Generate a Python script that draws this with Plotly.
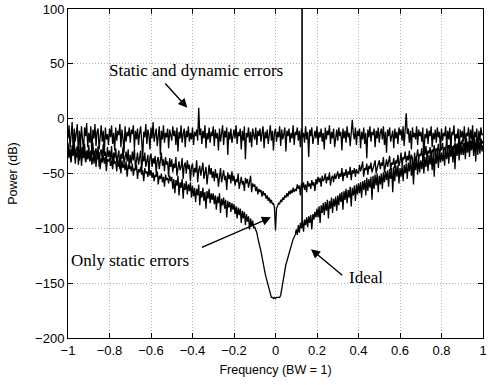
import numpy as np
import plotly.graph_objects as go

# Frequency grid (normalised, BW = 1), step 0.005 from -1 to 1
freq = np.round(np.arange(-200, 201) / 200.0, 3)

# Power (dB), one value per 0.005 in frequency
static_dynamic_db = [
    -18, -6, -27, -12, -3, -31, -9, -21, -14, -5, -34, -11, -24, -7, -19, -29, -8, -16, -4, -26,
    -13, -22, -7, -35, -10, -18, -5, -25, -12, -9, -28, -15, -6, -21, -11, -32, -8, -19, -14, -24,
    -9, -17, -6, -23, -13, -29, -8, -20, -11, -15, -5, -26, -10, -18, -31, -7, -21, -12, -16, -8,
    -22, -10, -14, -6, -27, -11, -19, -9, -24, -13, -7, -20, -36, -12, -17, -5, -23, -10, -15, -28,
    -8, -18, -3, -21, -12, -9, -25, -14, -7, -33, -11, -19, -6, -22, -13, -17, -9, -27, -10, -15,
    -20, -7, -16, -11, -24, -8, -30, -12, -18, -6, -22, -14, -9, -26, -11, -17, -7, -21, -13, -19,
    -8, -24, -12, -16, -10, -20, 10, -15, -9, -23, -11, -18, -6, -27, -13, -19, -8, -22, -12, -16,
    -7, -25, -10, -18, -13, -29, -9, -21, -14, -6, -24, -11, -17, -8, -33, -12, -19, -9, -22, -15,
    -10, -18, -6, -23, -12, -16, -9, -28, -11, -20, -7, -37, -13, -17, -8, -22, -12, -26, -9, -15,
    -19, -8, -24, -11, -16, -9, -21, -13, -7, -27, -12, -18, -10, -23, -14, -6, -20, -11, -29, -13,
    -9, -21, -12, -17, -7, -25, -10, -19, -14, -8, -30, -11, -16, -9, -22, -13, -18, -6, -24, -12,
    -15, -8, -20, -11, -26, -9, -17, -13, -22, -7, -19, -12, -35, -10, -16, -8, -23, -14, -11, -18,
    -7, -24, -12, -17, -9, -21, -13, -28, -8, -19, -11, -15, -6, -23, -12, -18, -9, -26, -14, -10,
    -20, -8, -16, -12, -29, -9, -18, -11, -22, -7, -17, -13, -25, -9, -1, -14, -19, -8, -24, -11,
    -16, -9, -27, -12, -19, -8, -23, -13, -36, -10, -17, -7, -21, -12, -15, -9, -26, -11, -18, -8,
    -22, -13, -9, -19, -7, -24, -12, -31, -10, -16, -8, -21, -14, -11, -27, -9, -18, -12, -23, -8,
    -15, -10, -20, -7, -25, -12, 5, -14, -9, -22, -11, -28, -8, -17, -13, -19, -7, -24, -10, -16,
    -12, -21, -8, -39, -14, -18, -9, -23, -11, -16, -7, -26, -13, -19, -10, -22, -8, -17, -12, -29,
    -9, -20, -13, -16, -7, -24, -11, -19, -8, -27, -12, -15, -6, -22, -14, -18, -9, -31, -10, -17,
    -11, -21, -7, -25, -13, -16, -8, -23, -10, -19, -6, -28, -12, -17, -9, -33, -11, -20, -8, -15,
    -14,
]

static_only_db = [
    -22, -34, -27, -40, -24, -31, -19, -37, -28, -25, -42, -30, -21, -36, -26, -33, -23, -39, -29, -35,
    -24, -38, -29, -33, -22, -41, -30, -27, -36, -25, -44, -31, -28, -37, -23, -34, -30, -40, -26, -35,
    -29, -38, -25, -43, -31, -36, -27, -40, -33, -29, -46, -32, -37, -26, -41, -34, -30, -39, -28, -45,
    -33, -41, -30, -38, -27, -45, -35, -31, -42, -36, -29, -48, -34, -39, -31, -44, -37, -33, -50, -35,
    -32, -44, -36, -41, -34, -50, -38, -35, -46, -40, -31, -43, -37, -48, -35, -42, -39, -53, -36, -44,
    -37, -49, -41, -45, -35, -52, -42, -39, -47, -44, -36, -55, -43, -40, -50, -38, -46, -42, -57, -44,
    -41, -53, -45, -49, -38, -58, -47, -43, -52, -46, -40, -55, -48, -44, -60, -47, -42, -51, -45, -54,
    -48, -57, -46, -54, -50, -62, -51, -45, -58, -53, -47, -56, -52, -65, -49, -55, -51, -59, -48, -57,
    -52, -61, -55, -58, -50, -64, -56, -53, -60, -57, -66, -54, -59, -55, -63, -58, -52, -67, -59, -62,
    -60, -66, -62, -69, -64, -67, -65, -71, -66, -70, -68, -73, -70, -75, -72, -77, -74, -78, -77, -81,
    -102, -82, -79, -77, -78, -74, -76, -72, -74, -70, -72, -68, -71, -66, -69, -65, -68, -63, -67, -64,
    -66, -60, -64, -61, -70, -59, -63, -58, -65, -60, -67, -57, -62, -59, -64, -56, -61, -58, -66, -55,
    -60, -53, -58, -54, -62, -52, -57, -55, -50, -59, -53, -56, -49, -61, -54, -52, -58, -50, -55, -51,
    -48, -55, -50, -53, -45, -57, -49, -52, -46, -54, -48, -51, -44, -56, -47, -50, -45, -53, -46, -49,
    -50, -42, -48, -44, -39, -53, -45, -47, -41, -51, -43, -46, -40, -49, -44, -42, -38, -50, -45, -41,
    -38, -46, -40, -43, -35, -49, -41, -37, -44, -39, -34, -47, -40, -42, -36, -45, -38, -41, -33, -43,
    -39, -31, -43, -35, -37, -30, -40, -34, -38, -29, -42, -33, -36, -54, -31, -39, -35, -28, -37, -32,
    -34, -27, -38, -30, -33, -25, -36, -29, -32, -26, -35, -28, -31, -24, -34, -27, -30, -23, -33, -28,
    -28, -22, -32, -26, -29, -20, -30, -24, -27, -21, -34, -25, -28, -22, -31, -23, -26, -19, -29, -24,
    -19, -26, -22, -28, -18, -25, -21, -30, -20, -24, -17, -27, -22, -25, -18, -26, -21, -28, -19, -23,
    -20,
]

ideal_db = [
    -26, -36, -30, -39, -28, -34, -24, -41, -31, -35, -29, -38, -27, -43, -32, -36, -30, -40, -33, -37,
    -32, -39, -30, -42, -35, -38, -29, -44, -34, -37, -31, -46, -36, -40, -33, -41, -35, -48, -37, -39,
    -36, -43, -38, -46, -35, -41, -39, -48, -37, -44, -40, -50, -38, -45, -41, -47, -39, -53, -42, -46,
    -43, -48, -41, -52, -45, -47, -42, -55, -46, -49, -44, -51, -47, -57, -45, -50, -48, -53, -46, -52,
    -47, -54, -49, -57, -51, -53, -48, -60, -52, -55, -50, -58, -53, -62, -51, -56, -54, -59, -52, -57,
    -53, -64, -55, -68, -56, -61, -52, -70, -58, -63, -55, -73, -59, -65, -57, -69, -60, -66, -58, -72,
    -61, -71, -63, -76, -64, -70, -60, -79, -66, -72, -63, -75, -67, -82, -66, -73, -64, -77, -68, -74,
    -68, -78, -70, -83, -71, -77, -68, -86, -73, -79, -72, -82, -74, -90, -75, -81, -76, -85, -77, -83,
    -78, -87, -80, -91, -81, -88, -82, -95, -84, -91, -85, -97, -87, -94, -89, -101, -91, -98, -93, -100,
    -99, -101, -104, -109, -112, -117, -121, -127, -133, -137, -141, -145, -149, -153, -157, -161, -163, -163, -164, -163,
    -164, -163, -163, -163, -163, -161, -155, -148, -142, -137, -133, -130, -126, -122, -119, -116, -113, -110, -108, -106,
    -101, -106, -97, -104, -95, -100, -93, -103, -92, -97, -90, -99, -89, -95, -88, -101, -87, -92, -85, -90,
    -82, -90, -80, -95, -79, -86, -77, -88, -76, -84, -74, -91, -75, -82, -72, -86, -73, -80, -71, -84,
    -70, -79, -68, -76, -67, -83, -66, -74, -64, -77, -65, -72, -62, -80, -63, -70, -61, -75, -60, -69,
    -59, -68, -58, -72, -57, -65, -56, -70, -54, -66, -55, -63, -53, -74, -52, -64, -51, -61, -50, -67,
    -52, -60, -50, -64, -49, -58, -48, -56, -47, -62, -46, -55, -45, -67, -44, -57, -43, -53, -42, -59,
    -45, -53, -43, -57, -42, -50, -41, -55, -40, -48, -39, -52, -38, -60, -37, -47, -36, -51, -35, -49,
    -38, -46, -36, -50, -35, -44, -34, -48, -33, -42, -32, -47, -31, -53, -30, -41, -29, -45, -28, -40,
    -31, -39, -29, -43, -28, -37, -27, -41, -26, -35, -25, -40, -24, -46, -23, -34, -22, -38, -21, -33,
    -25, -33, -23, -37, -22, -31, -21, -35, -20, -29, -19, -34, -18, -39, -17, -28, -19, -32, -18, -30,
    -24,
]

# Input tone (vertical line)
tone_freq = [0.128, 0.128]
tone_db = [-97, 115]

fig = go.Figure()
line_style = dict(color="black", width=1.3)
for ys in (static_dynamic_db, static_only_db, ideal_db):
    fig.add_trace(go.Scatter(x=freq, y=ys, mode="lines", line=line_style,
                             showlegend=False, hoverinfo="skip"))
fig.add_trace(go.Scatter(x=tone_freq, y=tone_db, mode="lines",
                         line=dict(color="black", width=1.6),
                         showlegend=False, hoverinfo="skip"))

serif = dict(family="Liberation Serif, Times New Roman, serif", size=17, color="black")
texts = [
    ("Static and dynamic errors", -0.383, 44),
    ("Only static errors", -0.70, -129.5),
    ("Ideal", 0.438, -145),
]
for t, x, y in texts:
    fig.add_annotation(x=x, y=y, text=t, showarrow=False, font=serif,
                       xref="x", yref="y")

arrows = [
    (-0.538, 33.5, -0.425, 10.0),
    (-0.362, -118.0, -0.022, -90.0),
    (0.329, -144.0, 0.171, -119.0),
]
for x0, y0, x1, y1 in arrows:
    fig.add_annotation(x=x1, y=y1, ax=x0, ay=y0, xref="x", yref="y",
                       axref="x", ayref="y", text="", showarrow=True,
                       arrowhead=2, arrowsize=1.3, arrowwidth=1.4,
                       arrowcolor="black")

sans = dict(family="Liberation Sans, Arial, Helvetica, sans-serif", size=13, color="black")
axis_common = dict(
    showline=True, linecolor="black", linewidth=1, mirror="allticks",
    ticks="inside", ticklen=5, tickcolor="black", tickwidth=1,
    showgrid=True, gridcolor="#b0b0b0", gridwidth=1, griddash="1px,2px",
    zeroline=False, tickfont=sans, ticklabeloverflow="allow",
)
fig.update_xaxes(range=[-1, 1], dtick=0.2, tick0=-1,
                 title=dict(text="Frequency (BW = 1)", font=dict(family=sans["family"], size=12.5, color="black"), standoff=8),
                 **axis_common)
fig.update_yaxes(range=[-200, 100], dtick=50, tick0=-200,
                 title=dict(text="Power (dB)", font=dict(family=sans["family"], size=12.5, color="black"), standoff=14),
                 **axis_common)

fig.update_layout(
    width=489, height=385,
    margin=dict(l=68, r=2, t=7, b=47),
    paper_bgcolor="white", plot_bgcolor="white",
    showlegend=False,
)

fig.write_html("out.html")
